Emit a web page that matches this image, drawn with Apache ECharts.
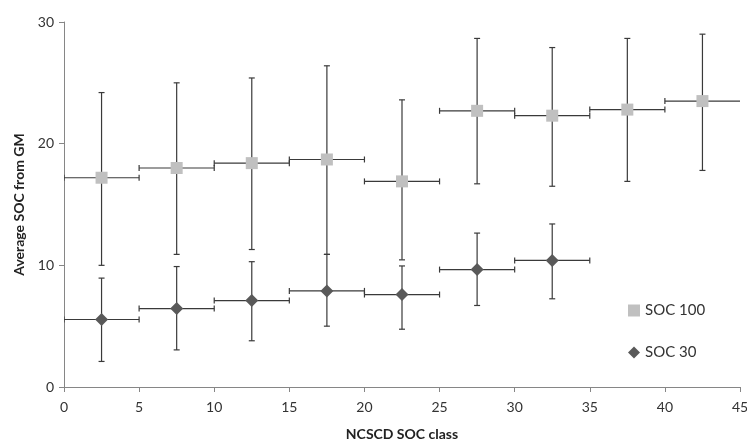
<!DOCTYPE html>
<html>
<head>
<meta charset="utf-8">
<script src="https://cdn.jsdelivr.net/npm/echarts@6/dist/echarts.min.js"></script>
<style>
  html, body { margin: 0; padding: 0; background: #fff; }
  #chart { width: 747px; height: 441px; }
</style>
</head>
<body>
<div id="chart"></div>
<script>
// NCSCD SOC classes (x): class bounds and midpoints
var classLow = [0, 5, 10, 15, 20, 25, 30, 35, 40];
var classHigh = [5, 10, 15, 20, 25, 30, 35, 40, 45];
var classMid = [2.5, 7.5, 12.5, 17.5, 22.5, 27.5, 32.5, 37.5, 42.5];

// SOC 100 averages with error range
var soc100Mean = [17.2, 18.0, 18.4, 18.7, 16.9, 22.7, 22.3, 22.8, 23.5];
var soc100Low = [10.0, 10.9, 11.3, 10.9, 10.45, 16.7, 16.5, 16.9, 17.8];
var soc100High = [24.2, 25.0, 25.4, 26.4, 23.6, 28.65, 27.9, 28.65, 29.0];

// SOC 30 averages with error range (first 7 classes only)
var soc30Mean = [5.55, 6.45, 7.1, 7.9, 7.6, 9.65, 10.4];
var soc30Low = [2.1, 3.05, 3.8, 5.0, 4.75, 6.7, 7.25];
var soc30High = [8.95, 9.9, 10.3, 10.9, 9.95, 12.65, 13.4];

var myChart = echarts.init(document.getElementById("chart"));

function rows(mean, low, high) {
    var out = [];
    for (var i = 0; i < mean.length; i++) {
        out.push([classMid[i], mean[i], low[i], high[i], classLow[i], classHigh[i]]);
    }
    return out;
}

var barColor = "#3a3a3a";
var cap = 3;

function renderErrorBar(params, api) {
    var mid = api.coord([api.value(0), api.value(1)]);
    var lo = api.coord([api.value(0), api.value(2)]);
    var hi = api.coord([api.value(0), api.value(3)]);
    var left = api.coord([api.value(4), api.value(1)]);
    var right = api.coord([api.value(5), api.value(1)]);
    var st = { stroke: barColor, lineWidth: 1.2 };
    var children = [
        { type: "line", shape: { x1: lo[0], y1: lo[1], x2: hi[0], y2: hi[1] }, style: st },
        { type: "line", shape: { x1: lo[0] - cap, y1: lo[1], x2: lo[0] + cap, y2: lo[1] }, style: st },
        { type: "line", shape: { x1: hi[0] - cap, y1: hi[1], x2: hi[0] + cap, y2: hi[1] }, style: st },
        { type: "line", shape: { x1: left[0], y1: mid[1], x2: right[0], y2: mid[1] }, style: st },
        { type: "line", shape: { x1: left[0], y1: mid[1] - cap, x2: left[0], y2: mid[1] + cap }, style: st }
    ];
    // the last class runs to the axis end, Excel drew no cap there
    if (api.value(5) < 45) {
        children.push({ type: "line", shape: { x1: right[0], y1: mid[1] - cap, x2: right[0], y2: mid[1] + cap }, style: st });
    }
    return { type: "group", children: children };
}

var labelFont = "Lato, 'Open Sans', sans-serif";

var option = {
    animation: false,
    grid: { left: 64, right: 7, top: 22, bottom: 54, outerBoundsMode: "none" },
    legend: {
        orient: "vertical",
        left: 623,
        top: 298,
        itemGap: 27,
        itemWidth: 12,
        itemHeight: 12,
        textStyle: { fontFamily: labelFont, fontSize: 15, color: "#333" },
        data: [
            { name: "SOC 100", icon: "rect", itemStyle: { color: "#c0c0c0" } },
            { name: "SOC 30", icon: "diamond", itemStyle: { color: "#595959" } }
        ]
    },
    xAxis: {
        type: "value",
        min: 0,
        max: 45,
        interval: 5,
        name: "NCSCD SOC class",
        nameLocation: "middle",
        nameGap: 40,
        nameTextStyle: { fontFamily: labelFont, fontWeight: "bold", fontSize: 14, color: "#222" },
        axisLine: { lineStyle: { color: "#868686" } },
        axisTick: { show: true, inside: false, length: 5, lineStyle: { color: "#868686" } },
        axisLabel: { fontFamily: labelFont, fontSize: 14, color: "#333", margin: 13 },
        splitLine: { show: false }
    },
    yAxis: {
        type: "value",
        min: 0,
        max: 30,
        interval: 10,
        name: "Average SOC from GM",
        nameLocation: "middle",
        nameGap: 38,
        nameTextStyle: { fontFamily: labelFont, fontWeight: "bold", fontSize: 14, color: "#222" },
        axisLine: { show: true, lineStyle: { color: "#868686" } },
        axisTick: { show: true, inside: false, length: 5, lineStyle: { color: "#868686" } },
        axisLabel: { fontFamily: labelFont, fontSize: 14, color: "#333", margin: 10 },
        splitLine: { show: false }
    },
    series: [
        {
            name: "SOC 100 err",
            type: "custom",
            renderItem: renderErrorBar,
            data: rows(soc100Mean, soc100Low, soc100High),
            encode: { x: 0, y: 1 },
            clip: true,
            z: 1
        },
        {
            name: "SOC 30 err",
            type: "custom",
            renderItem: renderErrorBar,
            data: rows(soc30Mean, soc30Low, soc30High),
            encode: { x: 0, y: 1 },
            clip: true,
            z: 1
        },
        {
            name: "SOC 100",
            type: "scatter",
            symbol: "rect",
            symbolSize: 12,
            itemStyle: { color: "#c0c0c0", opacity: 1 },
            data: classMid.map(function (x, i) { return [x, soc100Mean[i]]; }),
            z: 3
        },
        {
            name: "SOC 30",
            type: "scatter",
            symbol: "diamond",
            symbolSize: 13,
            itemStyle: { color: "#595959", opacity: 1 },
            data: soc30Mean.map(function (v, i) { return [classMid[i], v]; }),
            z: 3
        }
    ]
};

myChart.setOption(option);
window.addEventListener("resize", function () {
    myChart.resize();
});
</script>
</body>
</html>
